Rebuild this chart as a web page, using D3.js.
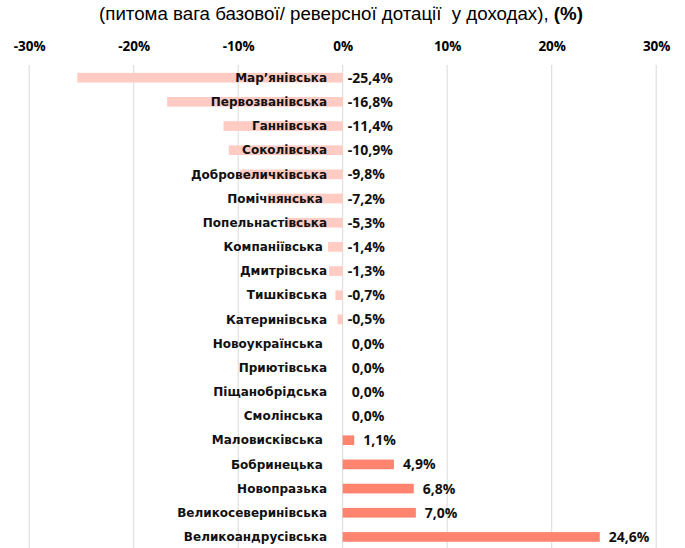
<!DOCTYPE html>
<html>
<head>
<meta charset="utf-8">
<script src="https://cdn.jsdelivr.net/npm/d3@7"></script>
<style>
  body { margin: 0; background: #fff; }
  svg text { white-space: pre; }
</style>
</head>
<body>
<svg width="685" height="548"></svg>
<script>
const communities = ["Мар’янівська", "Первозванівська", "Ганнівська", "Соколівська", "Добровеличківська",
    "Помічнянська ", "Попельнастівська", "Компаніївська ", "Дмитрівська", "Тишківська", "Катеринівська",
    "Новоукраїнська ", "Приютівська", "Піщанобрідська", "Смолінська ", "Маловисківська ", "Бобринецька ",
    "Новопразька", "Великосеверинівська", "Великоандрусівська"];
const shares = [-25.4, -16.8, -11.4, -10.9, -9.8, -7.2, -5.3, -1.4, -1.3, -0.7, -0.5,
    0.0, 0.0, 0.0, 0.0, 1.1, 4.9, 6.8, 7.0, 24.6];
const xTicks = [-30, -20, -10, 0, 10, 20, 30];

const data = communities.map((name, i) => ({ name: name, value: shares[i] }));

const svg = d3.select("svg");

const xScale = d3.scaleLinear()
    .domain([-30, 30])
    .range([29.2, 656.2]);

const yScale = d3.scaleBand()
    .domain(communities)
    .range([65.6, 549])
    .paddingInner(0.6)
    .paddingOuter(0.3);

const fmt = v => v.toFixed(1).replace(".", ",") + "%";

// заголовок
const title = svg.append("text")
    .attr("x", 341)
    .attr("y", 20)
    .attr("text-anchor", "middle")
    .style("font-family", "'Liberation Sans', Arial, sans-serif")
    .style("font-size", "18.7px")
    .style("fill", "#000");
title.append("tspan").text("(питома вага базової/ реверсної дотації  у доходах), ");
title.append("tspan").style("font-weight", "bold").text("(%)");

// сітка
svg.append("g")
    .selectAll("line")
    .data(xTicks)
    .enter()
    .append("line")
    .attr("x1", d => xScale(d))
    .attr("x2", d => xScale(d))
    .attr("y1", 65)
    .attr("y2", 548)
    .attr("stroke", "#d9d9d9")
    .attr("stroke-width", 1);

const xAxis = d3.axisTop(xScale)
    .tickValues(xTicks)
    .tickFormat(d => d + "%")
    .tickSize(0)
    .tickPadding(3);

svg.append("g")
    .attr("transform", "translate(0,54)")
    .call(xAxis)
    .call(g => g.select(".domain").remove())
    .selectAll("text")
    .style("font-family", "'Open Sans', sans-serif")
    .style("font-size", "13.5px")
    .style("font-weight", "bold")
    .style("fill", "#000");

svg.append("g")
    .selectAll("rect")
    .data(data)
    .enter()
    .append("rect")
    .attr("x", d => xScale(Math.min(0, d.value)))
    .attr("y", d => yScale(d.name))
    .attr("width", d => Math.abs(xScale(d.value) - xScale(0)))
    .attr("height", yScale.bandwidth())
    .attr("fill", d => d.value < 0 ? "#ffcbc3" : "#ff8470");

// назви громад
svg.append("g")
    .selectAll("text")
    .data(data)
    .enter()
    .append("text")
    .attr("x", 327)
    .attr("y", d => yScale(d.name) + yScale.bandwidth() / 2)
    .attr("dy", "0.35em")
    .attr("text-anchor", "end")
    .style("font-family", "'DejaVu Sans', sans-serif")
    .style("font-size", "12px")
    .style("font-weight", "bold")
    .style("fill", "#111")
    .text(d => d.name);

// підписи значень
svg.append("g")
    .selectAll("text")
    .data(data)
    .enter()
    .append("text")
    .attr("x", d => d.value < 0 ? xScale(0) + 5 : xScale(d.value) + 9)
    .attr("y", d => yScale(d.name) + yScale.bandwidth() / 2)
    .attr("dy", "0.36em")
    .style("font-family", "'Open Sans', sans-serif")
    .style("font-size", "14px")
    .style("font-weight", "bold")
    .style("fill", "#111")
    .text(d => fmt(d.value));
</script>
</body>
</html>
